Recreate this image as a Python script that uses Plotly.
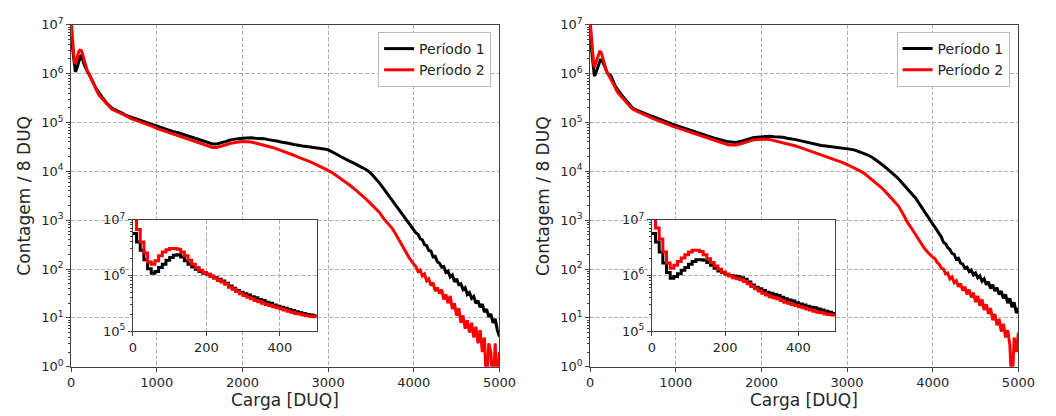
import numpy as np
import plotly.graph_objects as go

# ---------------- data (log10 of counts per 8 DUQ) ----------------
charge_fine = list(range(0, 500, 10))        # 0 .. 490   (inset region)
charge_mid = list(range(500, 4000, 50))      # 500 .. 3950
charge_tail = list(range(4000, 5001, 25))    # 4000 .. 5000

# ---- Left panel ----
left_p1_fine_log10 = [6.75, 6.60, 6.45, 6.28, 6.12, 6.04, 6.07, 6.14, 6.20, 6.27,
                      6.32, 6.36, 6.37, 6.33, 6.26, 6.20, 6.15, 6.11, 6.07, 6.04,
                      6.02, 5.99, 5.96, 5.93, 5.90, 5.86, 5.81, 5.77, 5.73, 5.70,
                      5.67, 5.65, 5.62, 5.60, 5.57, 5.55, 5.52, 5.50, 5.47, 5.45,
                      5.43, 5.41, 5.39, 5.37, 5.35, 5.33, 5.32, 5.30, 5.29, 5.28]
left_p2_fine_log10 = [7.10, 6.82, 6.60, 6.40, 6.24, 6.20, 6.26, 6.35, 6.42, 6.46,
                      6.48, 6.48, 6.47, 6.42, 6.35, 6.27, 6.20, 6.14, 6.09, 6.05,
                      6.02, 5.98, 5.95, 5.91, 5.88, 5.84, 5.79, 5.75, 5.71, 5.67,
                      5.64, 5.61, 5.58, 5.55, 5.53, 5.50, 5.48, 5.46, 5.44, 5.42,
                      5.40, 5.38, 5.36, 5.34, 5.32, 5.31, 5.29, 5.28, 5.27, 5.26]
left_p1_mid_log10 = [5.27, 5.23, 5.19, 5.14, 5.11, 5.08, 5.05, 5.02, 4.99, 4.96,
                     4.92, 4.90, 4.87, 4.84, 4.81, 4.79, 4.76, 4.73, 4.70, 4.67,
                     4.64, 4.61, 4.58, 4.56, 4.56, 4.58, 4.61, 4.64, 4.66, 4.67,
                     4.68, 4.69, 4.69, 4.68, 4.68, 4.67, 4.65, 4.64, 4.62, 4.60,
                     4.59, 4.57, 4.55, 4.53, 4.52, 4.51, 4.50, 4.49, 4.48, 4.46,
                     4.44, 4.40, 4.35, 4.30, 4.25, 4.21, 4.17, 4.12, 4.08, 4.03,
                     3.96, 3.87, 3.76, 3.64, 3.52, 3.40, 3.28, 3.15, 3.02, 2.91]
left_p2_mid_log10 = [5.25, 5.21, 5.17, 5.12, 5.08, 5.05, 5.02, 4.99, 4.95, 4.92,
                     4.88, 4.85, 4.82, 4.79, 4.76, 4.73, 4.70, 4.67, 4.64, 4.61,
                     4.57, 4.54, 4.51, 4.49, 4.49, 4.51, 4.54, 4.57, 4.59, 4.60,
                     4.61, 4.61, 4.60, 4.58, 4.56, 4.54, 4.52, 4.49, 4.46, 4.43,
                     4.40, 4.37, 4.33, 4.29, 4.26, 4.22, 4.19, 4.15, 4.11, 4.06,
                     4.02, 3.97, 3.91, 3.85, 3.79, 3.72, 3.65, 3.58, 3.50, 3.42,
                     3.34, 3.25, 3.16, 3.03, 2.92, 2.83, 2.68, 2.52, 2.38, 2.22]
left_p1_tail_log10 = [2.80, 2.74, 2.71, 2.62, 2.60, 2.50, 2.48, 2.38, 2.37, 2.25,
                      2.26, 2.15, 2.12, 2.04, 2.05, 1.93, 1.96, 1.84, 1.88, 1.74,
                      1.80, 1.68, 1.70, 1.58, 1.62, 1.48, 1.52, 1.40, 1.44, 1.30,
                      1.35, 1.22, 1.28, 1.12, 1.18, 1.02, 1.08, 0.90, 0.98, 0.75,
                      0.62]
left_p2_tail_log10 = [2.10, 2.05, 1.95, 1.98, 1.86, 1.90, 1.76, 1.80, 1.66, 1.72,
                      1.55, 1.62, 1.50, 1.58, 1.38, 1.48, 1.30, 1.45, 1.18, 1.30,
                      1.05, 1.20, 0.90, 1.05, 0.78, 0.95, 0.70, 0.90, 0.60, 0.82,
                      0.48, 0.75, 0.30, 0.60, -0.50, 0.48, 0.30, -0.50, 0.48, -0.50,
                      0.30]

# ---- Right panel ----
right_p1_fine_log10 = [6.75, 6.60, 6.42, 6.22, 6.05, 5.95, 5.98, 6.03, 6.09, 6.14,
                       6.20, 6.25, 6.28, 6.28, 6.27, 6.23, 6.18, 6.13, 6.08, 6.05,
                       6.02, 6.00, 5.99, 5.98, 5.96, 5.93, 5.88, 5.83, 5.79, 5.76,
                       5.73, 5.70, 5.68, 5.66, 5.64, 5.61, 5.58, 5.56, 5.54, 5.51,
                       5.49, 5.47, 5.45, 5.43, 5.42, 5.40, 5.38, 5.36, 5.34, 5.32]
right_p2_fine_log10 = [7.10, 6.85, 6.65, 6.42, 6.22, 6.13, 6.18, 6.25, 6.31, 6.37,
                       6.42, 6.45, 6.45, 6.43, 6.37, 6.30, 6.23, 6.17, 6.11, 6.06,
                       6.02, 5.99, 5.96, 5.94, 5.92, 5.89, 5.85, 5.80, 5.76, 5.72,
                       5.68, 5.65, 5.62, 5.60, 5.58, 5.55, 5.52, 5.50, 5.48, 5.46,
                       5.44, 5.42, 5.40, 5.38, 5.36, 5.34, 5.33, 5.31, 5.30, 5.29]
right_p1_mid_log10 = [5.29, 5.25, 5.21, 5.17, 5.14, 5.11, 5.08, 5.05, 5.01, 4.97,
                      4.94, 4.92, 4.89, 4.86, 4.83, 4.80, 4.77, 4.74, 4.71, 4.68,
                      4.66, 4.63, 4.61, 4.60, 4.59, 4.61, 4.64, 4.67, 4.69, 4.70,
                      4.71, 4.72, 4.72, 4.71, 4.71, 4.70, 4.68, 4.67, 4.65, 4.63,
                      4.61, 4.59, 4.56, 4.54, 4.53, 4.52, 4.51, 4.50, 4.49, 4.48,
                      4.47, 4.45, 4.43, 4.40, 4.37, 4.33, 4.28, 4.22, 4.15, 4.08,
                      4.01, 3.93, 3.85, 3.75, 3.65, 3.55, 3.45, 3.32, 3.18, 3.05]
right_p2_mid_log10 = [5.27, 5.23, 5.19, 5.14, 5.10, 5.07, 5.04, 5.01, 4.97, 4.93,
                      4.90, 4.87, 4.84, 4.81, 4.78, 4.75, 4.72, 4.69, 4.66, 4.63,
                      4.60, 4.57, 4.55, 4.54, 4.54, 4.56, 4.59, 4.62, 4.64, 4.65,
                      4.66, 4.66, 4.65, 4.63, 4.61, 4.59, 4.57, 4.54, 4.52, 4.49,
                      4.46, 4.43, 4.40, 4.37, 4.34, 4.30, 4.27, 4.24, 4.21, 4.18,
                      4.14, 4.10, 4.06, 4.01, 3.96, 3.89, 3.82, 3.75, 3.67, 3.58,
                      3.49, 3.39, 3.29, 3.14, 2.97, 2.84, 2.70, 2.55, 2.43, 2.33]
right_p1_tail_log10 = [2.92, 2.86, 2.80, 2.72, 2.66, 2.55, 2.52, 2.44, 2.40, 2.32,
                       2.30, 2.20, 2.22, 2.12, 2.10, 2.02, 2.04, 1.95, 1.98, 1.88,
                       1.92, 1.82, 1.86, 1.75, 1.80, 1.68, 1.74, 1.60, 1.68, 1.55,
                       1.62, 1.48, 1.55, 1.40, 1.48, 1.30, 1.40, 1.22, 1.32, 1.10,
                       1.20]
right_p2_tail_log10 = [2.24, 2.22, 2.14, 2.10, 2.02, 2.00, 1.90, 1.92, 1.80, 1.84,
                       1.72, 1.76, 1.64, 1.70, 1.56, 1.64, 1.48, 1.58, 1.42, 1.52,
                       1.32, 1.45, 1.25, 1.38, 1.16, 1.28, 1.08, 1.20, 0.95, 1.08,
                       0.85, 0.98, 0.72, 0.88, 0.60, 0.75, 0.45, -0.50, 0.60, 0.30,
                       0.70]

series_names = ["Período 1", "Período 2"]
series_colors = ["#000000", "#ff0000"]

x_ticks_main = [0, 1000, 2000, 3000, 4000, 5000]
x_ticks_inset = [0, 200, 400]
y_exp_main = [0, 1, 2, 3, 4, 5, 6, 7]
y_exp_inset = [5, 6, 7]

x_title = "Carga [DUQ]"
y_title = "Contagem / 8 DUQ"

# ---------------- figure ----------------
W, H = 1056, 416
FONT = "DejaVu Sans"


def px_x(p):
    return p / W


def px_y(p):
    return 1 - p / H


fig = go.Figure()

panels = [
    [(left_p1_fine_log10, left_p1_mid_log10, left_p1_tail_log10),
     (left_p2_fine_log10, left_p2_mid_log10, left_p2_tail_log10)],
    [(right_p1_fine_log10, right_p1_mid_log10, right_p1_tail_log10),
     (right_p2_fine_log10, right_p2_mid_log10, right_p2_tail_log10)],
]

x_main = charge_fine + charge_mid + charge_tail
x_inset = charge_fine + charge_mid[:1]

for pi, panel in enumerate(panels):
    mx, my = ("x", "y") if pi == 0 else ("x2", "y2")
    ix, iy = f"x{3 + pi}", f"y{3 + pi}"
    legend_id = "legend" if pi == 0 else "legend2"
    for si, (f, m, t) in enumerate(panel):
        counts_main = np.power(10.0, np.array(f + m + t))
        counts_inset = np.power(10.0, np.array(f + m[:1]))
        fig.add_trace(go.Scatter(
            x=x_main, y=counts_main, mode="lines",
            line=dict(color=series_colors[si], width=3, shape="linear"),
            name=series_names[si], legend=legend_id, showlegend=True,
            xaxis=mx, yaxis=my,
        ))
        fig.add_trace(go.Scatter(
            x=x_inset, y=counts_inset, mode="lines",
            line=dict(color=series_colors[si], width=3, shape="hv"),
            name=series_names[si], showlegend=False,
            xaxis=ix, yaxis=iy,
        ))

grid = dict(showgrid=True, gridcolor="#b0b0b0", gridwidth=1, griddash="4px,2px", zeroline=False)
frame = dict(showline=True, mirror=True, linecolor="#404040", linewidth=1,
             ticks="outside", ticklen=4, tickcolor="#404040",
             tickfont=dict(family=FONT, size=13, color="#262626"))


def sup(e):
    return f"10<sup>{e}</sup>"


minor_main = [m * 10 ** e for e in range(0, 7) for m in range(2, 10)]
minor_inset = [m * 10 ** e for e in range(5, 7) for m in range(2, 10)]

main_x_dom = [(68.5, 505.5), (598.0, 1035.0)]
inset_x_dom = [(131.5, 319.0), (661.0, 848.0)]
main_y_dom = (px_y(373.0), px_y(16.5))
inset_y_dom = (px_y(336.0), px_y(219.5))

layout = dict(
    width=W, height=H, margin=dict(l=0, r=0, t=0, b=0),
    paper_bgcolor="white", plot_bgcolor="white",
    font=dict(family=FONT, size=13, color="#262626"),
)

for pi in range(2):
    mx = "xaxis" if pi == 0 else "xaxis2"
    my = "yaxis" if pi == 0 else "yaxis2"
    ix = f"xaxis{3 + pi}"
    iy = f"yaxis{3 + pi}"
    m_anchor_x = "x" if pi == 0 else "x2"
    m_anchor_y = "y" if pi == 0 else "y2"
    layout[mx] = dict(domain=[px_x(main_x_dom[pi][0]), px_x(main_x_dom[pi][1])], anchor=m_anchor_y,
                      range=[0, 5000], tickmode="array", tickvals=x_ticks_main,
                      ticktext=[str(v) for v in x_ticks_main], **grid, **frame)
    layout[my] = dict(domain=list(main_y_dom), anchor=m_anchor_x, type="log", range=[0, 7],
                      tickmode="array", tickvals=[10 ** e for e in y_exp_main],
                      ticktext=[sup(e) for e in y_exp_main],
                      minor=dict(tickmode="array", tickvals=minor_main, ticks="outside", ticklen=2,
                                 tickcolor="#404040", showgrid=False),
                      **grid, **frame)
    layout[ix] = dict(domain=[px_x(inset_x_dom[pi][0]), px_x(inset_x_dom[pi][1])], anchor=f"y{3 + pi}",
                      range=[0, 500], tickmode="array", tickvals=x_ticks_inset,
                      ticktext=[str(v) for v in x_ticks_inset], **grid, **frame)
    layout[iy] = dict(domain=list(inset_y_dom), anchor=f"x{3 + pi}", type="log", range=[5, 7],
                      tickmode="array", tickvals=[10 ** e for e in y_exp_inset],
                      ticktext=[sup(e) for e in y_exp_inset],
                      minor=dict(tickmode="array", tickvals=minor_inset, ticks="outside", ticklen=2,
                                 tickcolor="#404040", showgrid=False),
                      **grid, **frame)

legend_common = dict(bgcolor="white", bordercolor="#bbbbbb", borderwidth=1,
                     font=dict(family=FONT, size=14, color="#262626"),
                     xanchor="right", yanchor="top", tracegroupgap=0, itemwidth=30)
layout["legend"] = dict(x=px_x(497), y=px_y(24), **legend_common)
layout["legend2"] = dict(x=px_x(1026), y=px_y(24), **legend_common)

annotations = []
for pi in range(2):
    cx = (main_x_dom[pi][0] + main_x_dom[pi][1]) / 2
    annotations.append(dict(text=x_title, x=px_x(cx), y=px_y(408), xref="paper", yref="paper",
                            showarrow=False, xanchor="center", yanchor="middle",
                            font=dict(family=FONT, size=17, color="#262626")))
    ty_x = 20 if pi == 0 else 550
    annotations.append(dict(text=y_title, x=px_x(ty_x), y=px_y(195), xref="paper", yref="paper",
                            showarrow=False, xanchor="center", yanchor="middle", textangle=-90,
                            font=dict(family=FONT, size=17, color="#262626")))
layout["annotations"] = annotations

fig.update_layout(**layout)
fig.write_html("out.html")
